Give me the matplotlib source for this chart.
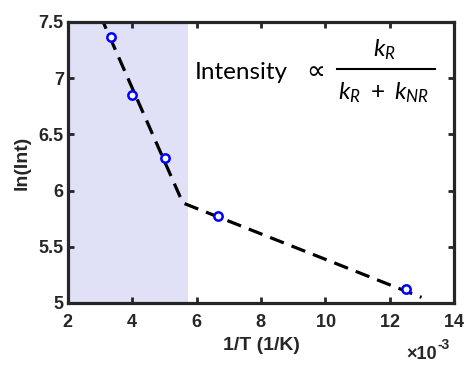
import matplotlib
matplotlib.use("Agg")
import matplotlib.pyplot as plt
import numpy as np
from matplotlib.ticker import ScalarFormatter, MultipleLocator, FuncFormatter

# Data
temperature_K = [300, 250, 200, 150, 80]
inv_T = [1.0 / t for t in temperature_K]          # 1/K
ln_int = [7.37, 6.85, 6.29, 5.77, 5.12]

fit_x = [3.0e-3, 5.57e-3, 12.99e-3]
fit_y = [7.56, 5.89, 5.05]

shade_x = [2.0e-3, 5.72e-3]

xlim = (2e-3, 14e-3)
ylim = (5, 7.5)

plt.rcParams['mathtext.fontset'] = 'custom'
plt.rcParams['mathtext.it'] = 'Lato:italic'
plt.rcParams['mathtext.rm'] = 'Lato'

fig = plt.figure(figsize=(4.67, 3.65), dpi=100)
ax = fig.add_axes([0.1456, 0.1699, 0.8266, 0.7699])

ax.axvspan(shade_x[0], shade_x[1], color='#e0e0f6', lw=0, zorder=0)
ax.plot(fit_x, fit_y, color='black', lw=2.3, dashes=(4.6, 2.6), zorder=2)
ax.plot(inv_T, ln_int, 'o', mfc='white', mec='#0000ff', ms=6, mew=1.8, zorder=3)

ax.set_xlim(*xlim)
ax.set_ylim(*ylim)
ax.xaxis.set_major_locator(MultipleLocator(2e-3))
ax.yaxis.set_major_locator(MultipleLocator(0.5))
fmt = ScalarFormatter(useMathText=True)
fmt.set_powerlimits((-3, -3))
ax.xaxis.set_major_formatter(fmt)
ax.yaxis.set_major_formatter(FuncFormatter(lambda v, p: ('%g' % v)))

for s in ax.spines.values():
    s.set_linewidth(2.3)
    s.set_color('#262626')
ax.tick_params(direction='in', length=4, width=2, colors='#262626',
               top=True, right=True, labelsize=13)
ax.tick_params(axis='x', pad=8)
ax.tick_params(axis='y', pad=3)
for lab in ax.get_xticklabels() + ax.get_yticklabels():
    lab.set_fontfamily('Liberation Sans')
    lab.set_fontweight('bold')
    lab.set_color('#262626')
ax.xaxis.get_offset_text().set_visible(False)

ax.set_xlabel('1/T (1/K)', fontfamily='Liberation Sans', fontweight='bold',
              fontsize=14, color='#262626', labelpad=4)
ax.set_ylabel('ln(Int)', fontfamily='Liberation Sans', fontweight='bold',
              fontsize=14, color='#262626', labelpad=6)

# annotation
W, H = 467, 365
def fx(px): return px / W
def fy(py): return 1 - py / H

# axis multiplier (MATLAB-style)
fig.text(fx(437), fy(359), '\u00d710', family='Liberation Sans', fontweight='bold',
         fontsize=13, ha='right', va='baseline', color='#262626')
fig.text(fx(437), fy(349), '-3', family='Liberation Sans', fontweight='bold',
         fontsize=10, ha='left', va='baseline', color='#262626')

fig.text(fx(195), fy(79), 'Intensity', family='Lato',
         fontsize=17.5, ha='left', va='baseline', color='black')
fig.text(fx(316), fy(79), '\u221d', family='DejaVu Sans',
         fontsize=19, ha='center', va='baseline', color='black')
fig.text(fx(384), fy(56), r'$k_R$', fontsize=17.5, ha='center', va='baseline')
fig.text(fx(384), fy(99), r'$k_R\ +\ k_{NR}$', fontsize=17.5, ha='center', va='baseline')
fig.add_artist(plt.Line2D([fx(337), fx(435)], [fy(69), fy(69)], color='black', lw=1.5))

fig.savefig('out.png', dpi=100)
